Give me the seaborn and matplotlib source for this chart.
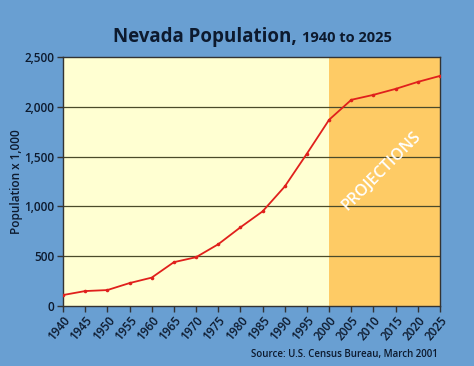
import matplotlib
matplotlib.use('Agg')
import matplotlib.pyplot as plt
import numpy as np
import pandas as pd
import seaborn as sns

# ---------------------------------------------------------------------------
# Data (thousands of people)
# ---------------------------------------------------------------------------

years      = [1940, 1945, 1950, 1955, 1960, 1965, 1970, 1975, 1980,
              1985, 1990, 1995, 2000, 2005, 2010, 2015, 2020, 2025]
population = [110, 150, 160, 230, 285, 440, 490, 620, 790,
              950, 1200, 1530, 1870, 2070, 2120, 2180, 2250, 2310]
projection_start = 2000

BG      = '#699fd2'
PLOT_BG = '#ffffd2'
PROJ_BG = '#fecb65'
RED     = '#e0201c'
DARK    = '#0d1a2e'

sns.set_theme(style='white')
plt.rcParams['font.family'] = ['Open Sans', 'DejaVu Sans']

df = pd.DataFrame({'year': years, 'population': population})

fig = plt.figure(figsize=(4.74, 3.66), dpi=100, facecolor=BG)
ax  = fig.add_axes([63 / 474, 1 - 306 / 366, 377 / 474, 249 / 366])
ax.set_facecolor(PLOT_BG)

ax.axvspan(projection_start, years[-1], color=PROJ_BG, lw=0, zorder=0)
for v in [500, 1000, 1500, 2000]:
    ax.axhline(v, color='#4a4a2a', lw=0.9, zorder=1)

sns.lineplot(data=df, x='year', y='population', ax=ax, color=RED,
             lw=1.3, marker='o', markersize=2.6, markeredgewidth=0, zorder=3)

ax.set_xlim(years[0], years[-1])
ax.set_ylim(0, 2500)
ax.set_xticks(years)
ax.set_xticklabels([str(y) for y in years], rotation=50, ha='right',
                   rotation_mode='anchor', fontsize=8.5, fontweight='semibold',
                   color=DARK)
ax.set_yticks([0, 500, 1000, 1500, 2000, 2500])
ax.set_yticklabels(['0', '500', '1,000', '1,500', '2,000', '2,500'],
                   fontsize=8.5, fontweight='semibold', color=DARK)
ax.tick_params(axis='both', length=4, width=1, color='#333333', pad=2,
               direction='out', bottom=True, left=True)
ax.set_xlabel('')
ax.set_ylabel('Population x 1,000', fontsize=8.5, fontweight='semibold',
              color=DARK)
ax.yaxis.set_label_coords(-(63 - 23) / 377, 0.5)
for s in ax.spines.values():
    s.set_color('#333333')
    s.set_linewidth(1)

ax.text(2011.8, 1360, 'PROJECTIONS', rotation=45, ha='center', va='center',
        color='white', fontsize=11.5, fontweight='semibold', zorder=4)

# two-part title: measure the first part, then put the second right after it
t1 = fig.text(113 / 474, 1 - 42 / 366, 'Nevada Population,', fontsize=13.5,
              fontweight='bold', color=DARK, ha='left', va='baseline')
fig.canvas.draw()
bb = t1.get_window_extent(renderer=fig.canvas.get_renderer())
fig.text((bb.x1 + 5) / fig.bbox.width, 1 - 42 / 366, '1940 to 2025',
         fontsize=10.5, fontweight='bold', color=DARK, ha='left', va='baseline')

fig.text(438 / 474, 1 - 357 / 366, 'Source: U.S. Census Bureau, March 2001',
         fontsize=7, fontweight='semibold', color=DARK, ha='right', va='baseline')

fig.savefig('out.png', dpi=100, facecolor=BG)
